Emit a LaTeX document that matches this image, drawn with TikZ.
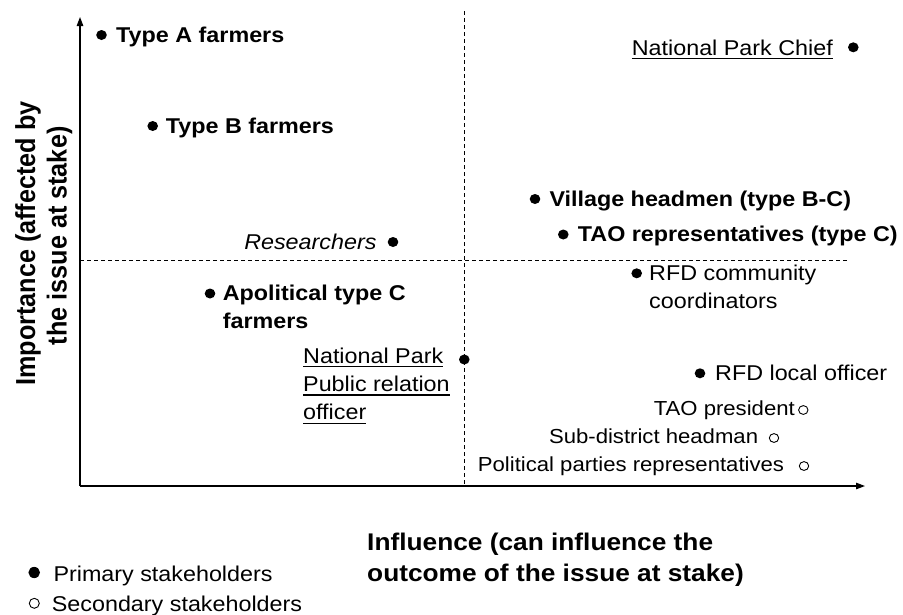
\documentclass[tikz,border=0pt]{standalone}
\usepackage{fontspec}
\setmainfont{Liberation Sans}[FakeStretch=1.09]
\newfontfamily\ylabfont{Liberation Sans}
\newcommand\myul[1]{\setbox0\hbox{#1}\rlap{\rule[-3.9pt]{\wd0}{1.2pt}}\box0}
\usetikzlibrary{arrows.meta,shapes.geometric}
\tikzset{
  lab/.style={inner sep=0pt, font=\fontsize{21.4}{28.3}\selectfont},
  blab/.style={inner sep=0pt, font=\fontsize{21.4}{28.3}\selectfont\bfseries},
  ilab/.style={inner sep=0pt, font=\fontsize{21.4}{28.3}\selectfont\itshape},
  slab/.style={inner sep=0pt, font=\fontsize{20.3}{24}\selectfont},
  pdot/.style={ellipse, fill=black, inner sep=0pt, minimum width=10.6pt, minimum height=10pt},
  sdot/.style={ellipse, draw=black, line width=0.9pt, inner sep=0pt, minimum width=9.4pt, minimum height=8.8pt},
  axisline/.style={line width=1.2pt, -{Triangle[length=9pt,width=6.5pt]}},
  guide/.style={line width=0.9pt, dash pattern=on 4pt off 3pt},
}
\begin{document}
\begin{tikzpicture}[x=1pt,y=-1pt]
\fill[white] (0,0) rectangle (903,614);
\useasboundingbox (0,0) rectangle (903,614);

% axes and quadrant guides
\coordinate (O) at (80,486);
\coordinate (Ytop) at (80,17);
\coordinate (Xend) at (865,486);
\coordinate (vtop) at (464.3,11);
\coordinate (vbot) at (464.3,486);
\coordinate (hl) at (80,260);
\coordinate (hr) at (849,260);
\draw[guide] (vtop) -- (vbot);
\draw[guide] (hl) -- (hr);
\draw[axisline] (O) -- (Ytop);
\draw[axisline] (O) -- (Xend);

% stakeholders
\node[pdot] (dA) at (101.5,35) {};
\node[blab, anchor=base west] (tA) at (116,42.5) {Type A farmers};
\node[pdot] (dB) at (152.7,126) {};
\node[blab, anchor=base west] (tB) at (165.7,133.5) {Type B farmers};
\node[ilab, anchor=base east] (tR) at (376.7,249.5) {Researchers};
\node[pdot] (dR) at (393,242) {};
\node[pdot] (dC) at (210,293.5) {};
\node[blab, anchor=base west] (tC) at (222.7,300.5) {\begin{tabular}[t]{@{}l@{}}Apolitical type C\\farmers\end{tabular}};
\node[lab, anchor=base west] (tNP) at (303,363.3) {\begin{tabular}[t]{@{}l@{}}\myul{National Park}\\\myul{Public relation}\\\myul{officer}\end{tabular}};
\node[pdot] (dNP) at (464.3,359.5) {};
\node[lab, anchor=base east] (tChief) at (833,55) {\myul{National Park Chief}};
\node[pdot] (dChief) at (853.3,47.3) {};
\node[pdot] (dV) at (535,199) {};
\node[blab, anchor=base west] (tV) at (549.3,206.3) {Village headmen (type B-C)};
\node[pdot] (dT) at (563.3,234.5) {};
\node[blab, anchor=base west] (tT) at (577.7,241.5) {TAO representatives (type C)};
\node[pdot] (dRC) at (636.7,273.3) {};
\node[lab, anchor=base west] (tRC) at (649,280.3) {\begin{tabular}[t]{@{}l@{}}RFD community\\coordinators\end{tabular}};
\node[pdot] (dRL) at (700,373.3) {};
\node[lab, anchor=base west] (tRL) at (715,380.5) {RFD local officer};
\node[slab, anchor=base east] (tTP) at (795,415) {TAO president};
\node[sdot] (dTP) at (803.3,410) {};
\node[slab, anchor=base east] (tSD) at (758.3,443) {Sub-district headman};
\node[sdot] (dSD) at (774,438) {};
\node[slab, anchor=base east] (tPP) at (784.3,471) {Political parties representatives};
\node[sdot] (dPP) at (804,466) {};

% axis labels
\node[inner sep=0pt, anchor=base west, font=\fontsize{24.1}{31}\selectfont\bfseries] (xlab) at (367,550.7)
  {\begin{tabular}[t]{@{}l@{}}Influence (can influence the\\outcome of the issue at stake)\end{tabular}};
\begin{scope}[shift={(35,235.8)}, xscale=1.09]
\node[inner sep=0pt, rotate=90, transform shape, anchor=base, font=\ylabfont\fontsize{25.2}{29.1}\selectfont\bfseries] (ylab) at (0,0)
  {\begin{tabular}[t]{@{}c@{}}Importance (affected by\kern15.4pt\\the issue at stake)\end{tabular}};
\end{scope}

% legend
\node[pdot, minimum width=11.6pt, minimum height=11.2pt] (lp) at (34.2,572.5) {};
\node[lab, anchor=base west] (lpt) at (53.3,581.5) {Primary stakeholders};
\node[sdot, minimum width=10pt, minimum height=10pt] (ls) at (34.3,603.3) {};
\node[lab, anchor=base west] (lst) at (51.7,611.5) {Secondary stakeholders};
\end{tikzpicture}
\end{document}
